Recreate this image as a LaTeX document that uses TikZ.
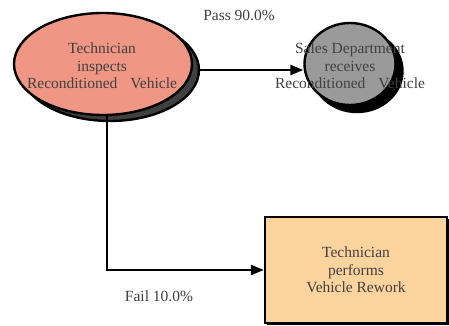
\documentclass[tikz,border=0pt]{standalone}
\usepackage{fontspec}
\setmainfont{Liberation Serif}
\usetikzlibrary{arrows.meta,shapes.geometric}
\definecolor{inktext}{HTML}{404040}
\definecolor{salmon}{HTML}{F09684}
\definecolor{midgray}{HTML}{9A9A9A}
\definecolor{peach}{HTML}{FDD39E}
\definecolor{shadowgray}{HTML}{404040}
\tikzset{
  outline/.style={draw=black, line width=2.4pt},
  connector/.style={draw=black, line width=2.4pt, -{Triangle[length=13pt,width=10pt]}},
  label/.style={text=inktext, font=\fontsize{15.5}{17.5}\selectfont, align=center, inner sep=0pt},
}
\begin{document}
\begin{tikzpicture}[x=1pt, y=-1pt]
  \useasboundingbox (0,0) rectangle (449,326);

  % inspection step (ellipse with offset shadow)
  \node[ellipse, outline, fill=shadowgray, minimum width=178pt, minimum height=102pt, inner sep=0pt]
    (inspectshadow) at (110,70) {};
  \node[ellipse, outline, fill=salmon, minimum width=178pt, minimum height=102pt, inner sep=0pt]
    (inspect) at (103,64) {};
  \node[label] (inspecttext) at (102,66) {Technician\\inspects\\Reconditioned\hspace{13pt}Vehicle};

  % sales department (circle with offset shadow)
  \node[ellipse, outline, fill=black, minimum width=91pt, minimum height=82pt, inner sep=0pt]
    (salesshadow) at (357,71) {};
  \node[ellipse, outline, fill=midgray, minimum width=91pt, minimum height=82pt, inner sep=0pt]
    (sales) at (350,64) {};
  \node[label] (salestext) at (350,66) {Sales Department\\receives\\Reconditioned\hspace{13pt}Vehicle};

  % rework step (box with thin shadow)
  \node[rectangle, fill=black, minimum width=182pt, minimum height=106pt, inner sep=0pt]
    (reworkshadow) at (358,272) {};
  \node[rectangle, outline, fill=peach, minimum width=182pt, minimum height=106pt, inner sep=0pt]
    (rework) at (356,270) {};
  \node[label] (reworktext) at (356,270) {Technician\\performs\\Vehicle Rework};

  % outcome connectors
  \draw[connector] (inspectshadow.east) -- (inspectshadow.east -| sales.west);
  \draw[connector] ([xshift=4pt]inspect.south) |- (rework.west);

  % outcome labels
  \node[label] (passlabel) at (239,15) {Pass 90.0\%};
  \node[label] (faillabel) at (159,296) {Fail 10.0\%};
\end{tikzpicture}
\end{document}
